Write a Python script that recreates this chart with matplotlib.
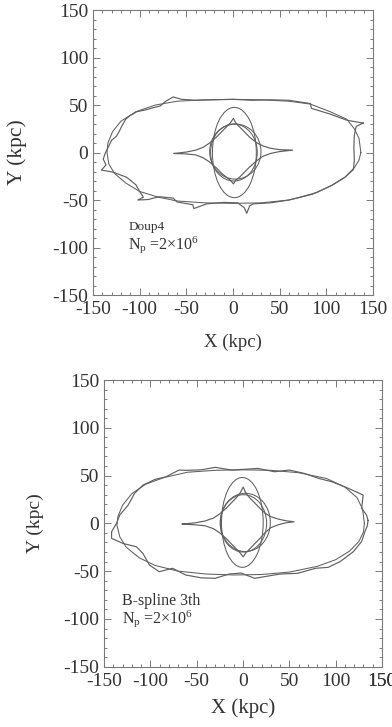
import matplotlib
matplotlib.use("Agg")
import matplotlib.pyplot as plt
from matplotlib.patches import Ellipse
from matplotlib.ticker import MultipleLocator

plt.rcParams['font.family'] = ['Liberation Serif', 'DejaVu Serif']
plt.rcParams['mathtext.fontset'] = 'custom'
plt.rcParams['mathtext.rm'] = 'Liberation Serif'
plt.rcParams['mathtext.it'] = 'Liberation Serif:italic'
plt.rcParams['axes.unicode_minus'] = False

TEXT = '#333333'
EDGE = '#7a7a7a'
LINE = '#606060'

# ---- Doup4 run (kpc) ----
doup_smooth_x = [137, 135, 130, 122, 104, 83, 60, 30, 0, -30, -60, -83, -104, -120, -129, -134, -135,
                 -133, -127, -115, -100, -80, -60, -30, 0, 30, 60, 85, 105, 120, 130, 135, 137]
doup_smooth_y = [0, 15, 25, 35, 43, 51, 54, 55.5, 56, 55.5, 54, 50, 43, 33, 22, 10, 0,
                 -12, -22, -32, -41, -47, -51, -53, -53.5, -53, -50, -44, -35, -26, -16, -8, 0]

doup_orbit_x = [139.5, 122, 104, 84, 83, 60, 40, 20, 0, -20, -40, -55, -64, -72, -78, -86, -93,
                -103, -110, -115, -119, -122, -125, -130, -134, -137, -139, -136, -141, -129,
                -114, -104, -100, -96, -102, -91, -79, -64, -60, -43, -42, -28, -10, 5, 12,
                14.7, 18, 22, 40, 60, 72, 90, 107, 120, 129, 130, 129.5, 130, 132, 139.5]
doup_orbit_y = [31, 34, 40.5, 46.5, 51.5, 55, 55.5, 55, 56, 55.5, 55, 56, 58.5, 54, 49, 47, 45,
                43, 39, 35, 28, 22, 17, 13, 5, -1, -7, -13, -18.5, -20.5,
                -26, -34, -41, -47, -50, -49.5, -46.5, -48, -52, -55, -59, -54, -52.5, -53, -58,
                -64, -56, -54, -53, -50, -47, -42, -34, -26, -18, -8, 5, 18, 27.5, 31]

doup_star_x = [-63, -50, -40, -32, -25, -18, -12, -7, -3, 0.5, 3, 7, 12, 18, 25, 32, 40, 50, 64,
               50, 40, 32, 25, 18, 12, 7, 3, 0.5, -3, -7, -12, -18, -25, -32, -40, -50, -63]
doup_star_y = [-1, 0.5, 2.5, 5.5, 10, 16, 22, 27, 31, 36, 31, 27, 22, 16, 10.5, 7, 4.5, 3, 2.5,
               1, -1, -4, -9, -15, -21, -26, -29, -33, -29, -26, -22, -16, -10, -5.5, -2.5, -1.5, -1]

# inner loops: (centre x, centre y, width, height)
doup_loops = [(1.5, 0, 47, 95), (2.5, 1, 55, 58), (1, 0, 50, 60)]

# ---- B-spline 3th run (kpc) ----
bsp_smooth_x = [131, 129, 123, 110, 90, 60, 30, 0, -30, -60, -85, -105, -120, -130, -135, -136,
                -133, -126, -112, -95, -70, -40, -10, 20, 50, 80, 100, 115, 125, 130, 131]
bsp_smooth_y = [0, 15, 27, 38, 47, 53, 55.5, 56, 55.5, 53.5, 48, 41, 31, 19, 7, -2,
                -14, -25, -36, -44, -50, -53, -54, -53.5, -51, -45, -38, -29, -19, -9, 0]

bsp_orbit_x = [135, 133.3, 128, 129.7, 113.8, 96, 81.8, 66, 50, 34, 16, 0, -12, -30, -45, -62,
               -69, -83.3, -95, -108, -117, -124, -133, -136.5, -141.8, -141.8, -129.5, -115,
               -108, -101, -90.4, -76, -62, -45, -30, -15, -2, 12.6, 23, 40, 58.7, 78.3, 92,
               104.8, 119, 128, 131.5, 134, 135]
bsp_orbit_y = [3, 8.7, 15.7, 29.6, 36.6, 43.5, 47, 52.3, 55.8, 54, 57.5, 56.5, 55.8, 58.6, 56,
               55.5, 55.8, 48.7, 46, 40, 31.4, 19, 8.7, 0, -8.8, -15.7, -21, -24.5,
               -31.4, -43.6, -50.6, -47, -54, -57, -57.5, -53, -52, -57.5, -55.8, -53, -52.3, -47, -46,
               -40, -29.7, -19, -8.8, -3, 3]

bsp_star_x = [-65.5, -52, -41, -32, -25, -18, -12, -7, -3, 0.2, 3, 7, 12, 18, 24, 30, 38, 46, 55,
              46, 38, 30, 24, 18, 12, 7, 3, 0.2, -3, -7, -12, -18, -25, -32, -41, -52, -65.5]
bsp_star_y = [-0.7, 0.5, 2.5, 5.5, 10, 16, 22, 27, 32, 38, 32, 27, 22, 16, 10.5, 7, 4.5, 2.8, 1.7,
              0.5, -1.5, -4.5, -9.5, -16, -22, -27, -31, -35, -31, -27, -22, -16, -10, -5.5, -2.5, -1.5, -0.7]

bsp_loops = [(-0.7, 1, 45, 94), (2.5, 1, 54, 61), (0.5, 0, 50, 60)]


def draw_panel(ax, smooth, orbit, star, loops, xmax):
    ax.plot(*smooth, color=LINE, lw=0.75)
    ax.plot(*orbit, color=LINE, lw=0.85)
    ax.plot(*star, color=LINE, lw=0.85)
    for cx, cy, w, h in loops:
        ax.add_patch(Ellipse((cx, cy), w, h, fill=False, ec=LINE, lw=0.75))

    ax.set_xlim(-150, xmax)
    ax.set_ylim(-150, 150)
    ax.set_xticks([-150, -100, -50, 0, 50, 100, 150])
    ax.set_yticks([-150, -100, -50, 0, 50, 100, 150])
    ax.xaxis.set_minor_locator(MultipleLocator(10))
    ax.yaxis.set_minor_locator(MultipleLocator(10))
    ax.tick_params(which='both', direction='in', top=True, right=True,
                   color=EDGE, width=0.7, labelcolor=TEXT, labelsize=14)
    ax.tick_params(which='major', length=5)
    ax.tick_params(which='minor', length=2.5)
    ax.tick_params(axis='x', pad=4.5)
    ax.tick_params(axis='y', pad=3.5)
    for s in ax.spines.values():
        s.set_color(EDGE)
        s.set_linewidth(0.8)


fig = plt.figure(figsize=(3.92, 7.27), dpi=100)

ax1 = fig.add_axes([0.2372, 0.5942, 0.7143, 0.3920])
draw_panel(ax1, (doup_smooth_x, doup_smooth_y), (doup_orbit_x, doup_orbit_y),
           (doup_star_x, doup_star_y), doup_loops, 150)
ax1.set_xlabel('X (kpc)', fontsize=13.5, color=TEXT, labelpad=11)
ax1.set_ylabel('Y (kpc)', fontsize=15.5, color=TEXT, labelpad=18)
ax1.text(-112, -82, 'Doup4', fontsize=9.5, color=TEXT)
ax1.text(-112, -101, r'N$_{\rm p}$ =2$\times$10$^{6}$', fontsize=11.5, color=TEXT)

ax2 = fig.add_axes([0.2653, 0.0829, 0.7092, 0.3944])
draw_panel(ax2, (bsp_smooth_x, bsp_smooth_y), (bsp_orbit_x, bsp_orbit_y),
           (bsp_star_x, bsp_star_y), bsp_loops, 146)
# the 150 label sits just past the clipped right edge
ax2.annotate('150', xy=(150, 0), xycoords=('data', 'axes fraction'),
             xytext=(0, -4.5), textcoords='offset points', ha='center', va='top',
             fontsize=14, color=TEXT, annotation_clip=False)
ax2.set_xlabel('X (kpc)', fontsize=15, color=TEXT, labelpad=6)
ax2.set_ylabel('Y (kpc)', fontsize=14, color=TEXT, labelpad=14)
ax2.text(-131, -85, 'B-spline 3th', fontsize=11.5, color=TEXT)
ax2.text(-131, -104, r'N$_{\rm p}$ =2$\times$10$^{6}$', fontsize=11.5, color=TEXT)

fig.savefig('out.png', dpi=100)
